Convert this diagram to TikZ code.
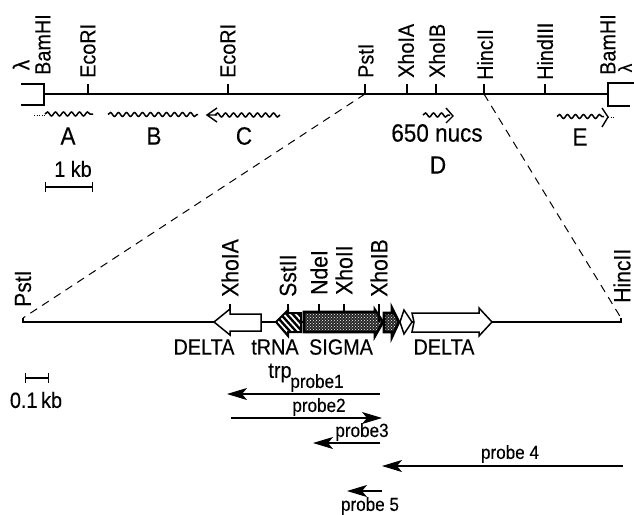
\documentclass[tikz,border=0pt]{standalone}
\usepackage{fontspec}
\setmainfont[FakeStretch=0.9,FakeBold=0.25]{Liberation Sans}
\usetikzlibrary{arrows.meta,decorations.pathmorphing,patterns}
\tikzset{
  dna/.style={line width=1.6pt,black},
  site/.style={line width=1.3pt,black},
  rs/.style={rotate=90,anchor=west,inner sep=0pt,font=\fontsize{22}{22}\selectfont},
  rsl/.style={rotate=90,anchor=west,inner sep=0pt,font=\fontsize{23.5}{23.5}\selectfont},
  letter/.style={inner sep=0pt,font=\fontsize{25}{25}\selectfont},
  glabel/.style={inner sep=0pt,font=\fontsize{22}{22}\selectfont},
  plabel/.style={inner sep=0pt,font=\fontsize{19}{19}\selectfont},
  wavy/.style={line width=1.5pt,decorate,decoration={snake,amplitude=2pt,segment length=8pt}},
  openhead/.style={line width=1.4pt},
  dots/.style={line width=.6pt,dotted},
  guide/.style={line width=1pt,dash pattern=on 8pt off 6pt},
  gene/.style={draw=black,line width=1.5pt,fill=white,line join=miter},
  dark/.style={fill=black!85,postaction={pattern=crosshatch dots,pattern color=white},postaction={draw=black,line width=2.6pt,line join=miter}},
  probe/.style={line width=1.1pt,-{Stealth[length=20pt,width=12pt,inset=5pt]}},
  scalebar/.style={line width=1.2pt,{Bar[width=10pt]}-{Bar[width=10pt]}}
}
\begin{document}
\begin{tikzpicture}[x=1pt,y=-1pt]
\useasboundingbox[fill=white] (0,0) rectangle (634,514);
% --- top map
\coordinate (tl) at (44,94); \coordinate (tr) at (607,94);
\draw[dna] (tl) -- (tr);
\draw[dna] (21,84) -- (44,84) -- (44,105) -- (21,105);
\draw[dna] (634,83) -- (608,83) -- (608,106) -- (630,106);
\foreach \n/\x/\lx/\t/\b in {eA/88/88/EcoRI/78, eB/228/228/EcoRI/78, pst/365/366/PstI/78, xa/407/406/XhoIA/78, xb/436/437/XhoIB/78, hc/484/485/HincII/80, hd/545/545/HindIII/80}{
  \coordinate (\n) at (\x,94);
  \draw[site] (\n) -- ++(0,-10);
  \node[rs] (\n t) at (\lx,\b) {\t};
}
\node[rs] (bl) at (43,75) {BamHI};
\node[rs] (br) at (608,75) {BamHI};
\node[inner sep=0pt,rotate=90,font=\fontsize{23}{23}\selectfont] (ll) at (21,65) {λ};
\node[inner sep=0pt,rotate=90,font=\fontsize{19}{19}\selectfont] (lr) at (625,68) {λ};
% --- transcripts
\draw[wavy] (45,114) -- (93,114);
\draw[dots] (34,115) -- (45,115);
\draw[wavy] (108,114.5) -- (198,114.5);
\draw[wavy] (215,115) -- (280,115);
\draw[openhead] (217,108) -- (207,115) -- (217,122) (207,115) -- (217,115);
\draw[wavy] (423,115) -- (450,115);
\draw[openhead] (446,108) -- (453,116) -- (446,123);
\draw[wavy] (557,116.5) -- (604,116.5);
\draw[openhead] (602,108) -- (608,117) -- (602,127);
\draw[dots] (608,117) -- (615,117);
\node[letter] (A) at (68,136) {A};
\node[letter] (B) at (154,136) {B};
\node[letter] (C) at (244,136) {C};
\node[letter] (D) at (438,165) {D};
\node[letter] (E) at (580,137) {E};
\node[inner sep=0pt,font=\fontsize{25}{25}\selectfont] (nucs) at (437,133) {650 nucs};
\node[glabel] (kb) at (73,169) {1 kb};
\coordinate (kl) at (45,187); \coordinate (kr) at (93,187);
\draw[scalebar] (kl) -- (kr);
% --- lower line
\coordinate (ll0) at (23,322); \coordinate (lr0) at (621,322);
\coordinate (ll1) at (23,318); \coordinate (lr1) at (621,318);
\draw[guide] (pst) -- (ll1);
\draw[guide] (hc) -- (lr1);
\draw[dna] (ll1) -- (ll0) -- (lr0) -- (lr1);
% genes
\draw[gene] (214,322) -- (230,309) -- (230,314) -- (261,314) -- (261,331) -- (230,331) -- (230,335) -- cycle;
\begin{scope}
\clip (276,322) -- (288,310) -- (288,313) -- (301,313) -- (301,332) -- (288,332) -- (288,336) -- cycle;
\fill[white] (270,305) rectangle (305,340);
\foreach \s in {0,6,...,42}{\draw[line width=2.4pt] (265+\s,310) -- (290+\s,338);}
\end{scope}
\draw[line width=2pt,line join=miter] (276,322) -- (288,310) -- (288,313) -- (301,313) -- (301,332) -- (288,332) -- (288,336) -- cycle;
\path[dark] (304,312) -- (375,312) -- (375,310) -- (383,322) -- (375,336) -- (375,332) -- (304,332) -- cycle;
\path[dark] (384,313) -- (392,313) -- (392,308) -- (399,322) -- (392,337) -- (392,332) -- (384,332) -- cycle;
\draw[gene] (400,322) -- (404,310) -- (412,322) -- (404,334) -- cycle;
\draw[gene] (412,313) -- (479,313) -- (479,308) -- (492,322) -- (479,336) -- (479,332) -- (412,332) -- (414,322) -- cycle;
% sites
\foreach \n/\x/\t/\y/\b in {lxa/230/XhoIA/309/297, sst/288/SstII/310/297, nde/319/NdeI/312/295, xo2/344/XhoII/312/295, lxb/379/XhoIB/322/297}{
  \coordinate (\n) at (\x,\y);
  \draw[site] (\n) -- (\x,304);
  \node[rsl] (\n t) at (\x,\b) {\t};
}
\node[rsl] (lp) at (23,307) {PstI};
\node[rsl] (lh) at (622,303) {HincII};
\node[glabel] (d1) at (204,347) {DELTA};
\node[glabel] (t1) at (275,347) {tRNA};
\node[glabel] (s1) at (341,347) {SIGMA};
\node[glabel] (d2) at (444,347) {DELTA};
\node[glabel] (t2) at (280,373) {trp};
\coordinate (ol) at (25,378); \coordinate (or) at (49,378);
\draw[scalebar] (ol) -- (or);
\node[glabel] (okb) at (36,400) {0.1\,kb};
% --- probes
\coordinate (p1a) at (380,394); \coordinate (p1b) at (227,394);
\coordinate (p2a) at (231,418); \coordinate (p2b) at (382,418);
\coordinate (p3a) at (380,443); \coordinate (p3b) at (313,443);
\coordinate (p4a) at (623,466); \coordinate (p4b) at (382,466);
\coordinate (p5a) at (382,491); \coordinate (p5b) at (347,491);
\draw[probe] (p1a) -- (p1b);
\draw[probe] (p2a) -- (p2b);
\draw[probe] (p3a) -- (p3b);
\draw[probe] (p4a) -- (p4b);
\draw[probe] (p5a) -- (p5b);
\node[plabel] (n1) at (317,383) {probe1};
\node[plabel] (n2) at (319,407) {probe2};
\node[plabel] (n3) at (362,432) {probe3};
\node[plabel] (n4) at (510,454) {probe 4};
\node[plabel] (n5) at (370,506) {probe 5};
\end{tikzpicture}
\end{document}
